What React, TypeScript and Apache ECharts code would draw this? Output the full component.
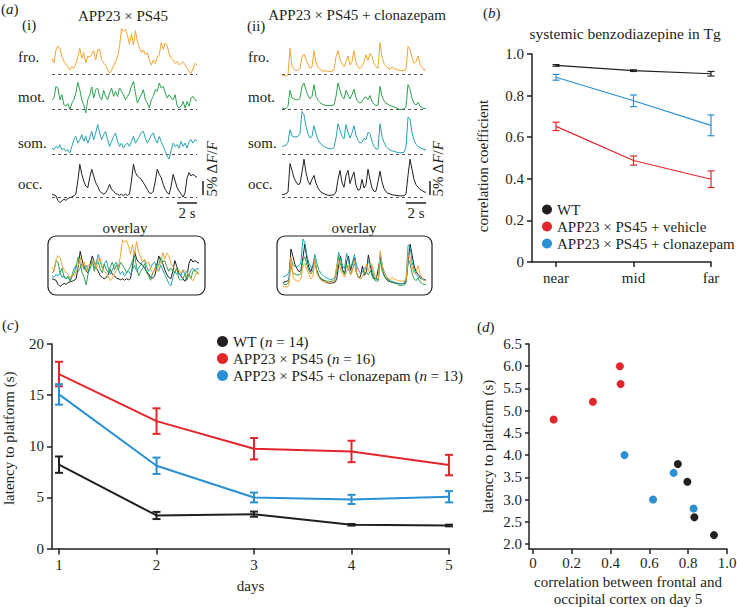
import React, { useEffect, useRef } from "react";
import * as echarts from "echarts";

const FONT = "Liberation Serif";
const INK = "#231f20";
const ORANGE = "#f4a432";
const GREEN = "#2ca24e";
const TEAL = "#25a3ae";
const RED = "#e3262c";
const BLUE = "#2a8fd3";

// ---------- (a) calcium traces, ΔF/F in % ----------
const traceLabels = ["fro.", "mot.", "som.", "occ."];
const froI = [5.6, 4.0, 8.6, 10.0, 9.2, 6.2, 4.6, 3.6, 2.6, 1.4, 2.6, 2.0, 3.6, 6.2, 9.2, 5.6, 7.6, 4.0, 6.4, 6.0, 7.1, 8.3, 5.0, 8.6, 8.8, 5.2, 3.8, 3.2, 1.7, 0.2, 1.4, 2.9, 4.3, 6.0, 9.8, 16.2, 15.2, 16.0, 13.8, 10.7, 14.3, 10.4, 15.5, 11.5, 9.5, 7.6, 8.6, 6.9, 7.6, 4.8, 3.2, 5.0, 3.8, 6.0, 6.8, 11.2, 8.8, 11.0, 10.0, 7.1, 5.7, 5.0, 3.8, 4.5, 3.3, 3.8, 4.3, 3.3, 2.1, 1.0, 0.2, 1.9, 3.8, 3.2];
const motI = [3.3, 3.9, 8.1, 7.5, 3.3, 5.1, 1.5, 1.0, 1.9, -0.2, 2.1, 3.3, 5.7, 9.5, 6.9, 3.3, 1.5, -1.4, 3.3, 5.1, 7.9, 3.9, 6.9, 7.5, 4.5, 3.3, 6.7, 4.5, 3.3, 5.7, 7.5, 4.5, 6.3, 4.5, 7.5, 6.3, 5.1, 3.3, 4.5, 5.7, 8.1, 9.9, 5.7, 2.1, 3.9, 5.1, 6.9, 3.3, 2.1, 0.4, 3.3, 4.5, 6.9, 6.3, 9.3, 7.5, 8.1, 5.7, 3.9, 5.1, 3.9, 3.3, 5.1, 1.0, 0.4, 1.0, 2.7, 0.4, 2.7, 1.0, 3.9, 4.5, 3.3, 2.8];
const somI = [2.1, 1.5, 2.7, 2.1, 3.3, 1.5, 2.1, 1.0, 1.5, 0.4, 2.7, 5.1, 6.3, 3.9, 5.1, 6.9, 4.5, 6.3, 3.9, 5.7, 8.1, 5.1, 7.5, 10.5, 7.5, 5.1, 6.9, 8.1, 5.1, 2.7, 4.5, 6.3, 7.5, 4.5, 2.7, 3.9, 2.1, 3.3, 3.9, 2.7, 4.5, 6.3, 3.9, 5.1, 6.3, 7.7, 8.1, 5.7, 3.9, 5.1, 6.9, 7.5, 5.1, 3.9, 6.3, 4.5, 2.7, 1.0, -0.8, -1.8, 1.5, 3.9, 2.7, 3.3, 2.1, 4.5, 2.7, 3.9, 2.1, 4.5, 5.1, 3.9, 5.1, 4.6];
const occI = [1.0, 0.7, 0.4, -1.2, -2.0, -1.4, -0.8, -1.2, -0.5, -0.2, 0, 0.4, 1.0, 5.7, 11.7, 8.1, 5.7, 3.9, 3.3, 6.9, 9.9, 7.5, 5.1, 3.9, 2.1, 1.5, 1.0, 1.5, 2.7, 4.5, 2.7, 2.1, 1.2, 1.0, 0.6, 1.0, 0.4, 1.0, 0.6, 1.0, 5.7, 11.7, 8.7, 7.5, 6.9, 6.3, 5.1, 3.9, 2.7, 1.5, 1.2, 2.1, 5.7, 9.9, 8.1, 6.9, 4.5, 2.7, 1.5, 1.0, 3.9, 8.1, 5.7, 3.3, 2.1, 1.0, 0, 1.5, 6.9, 8.7, 7.5, 8.1, 7.5, 7.0];
const froII = [-0.4, -0.6, -0.7, -0.2, 9.2, 2.9, 1.7, 1.2, 1.4, 2.0, 6.2, 7.1, 5.2, 3.6, 2.0, 2.6, 8.3, 4.0, 2.4, 1.7, 1.2, 1.0, 1.1, 1.0, 0.8, 1.1, 1.4, 6.2, 8.3, 5.0, 3.6, 2.6, 4.4, 6.4, 3.2, 4.4, 8.3, 4.0, 2.4, 2.0, 2.6, 4.4, 6.8, 4.8, 7.4, 6.4, 3.6, 2.6, 2.0, 11.2, 6.0, 3.8, 2.9, 2.1, 1.7, 2.6, 1.9, 1.7, 1.4, 1.3, 1.2, 1.3, 1.7, 9.8, 8.8, 6.0, 3.8, 4.4, 6.4, 3.6, 2.4, 1.4, 1.7];
const motII = [0.4, 0.1, 0.2, 1.0, 6.7, 3.9, 3.6, 3.3, 3.3, 3.8, 8.1, 9.3, 6.7, 4.8, 3.6, 4.5, 8.7, 4.5, 3.1, 2.3, 1.8, 1.5, 1.3, 1.2, 1.2, 1.3, 1.4, 4.5, 9.3, 6.7, 4.5, 3.6, 6.7, 5.1, 3.6, 5.1, 7.1, 3.9, 2.6, 2.1, 2.7, 3.9, 4.3, 3.3, 4.8, 2.7, 1.7, 1.2, 1.4, 8.1, 4.5, 2.9, 2.1, 1.7, 1.2, 1.0, 0.7, 0.5, 0.1, -0.2, -0.1, 0.0, 0.7, 8.7, 7.1, 3.8, 2.1, 1.4, 2.4, 1.0, 0.5, 0.2, 0.2];
const somII = [2.7, 2.9, 3.2, 4.2, 8.7, 6.5, 6.1, 6.1, 6.3, 7.3, 15.2, 14.0, 9.9, 7.3, 5.7, 6.3, 10.1, 7.3, 5.1, 3.9, 3.2, 2.7, 2.3, 2.0, 1.8, 1.9, 2.3, 5.7, 10.8, 8.5, 6.3, 5.4, 10.5, 7.7, 5.7, 7.5, 10.1, 6.5, 4.9, 3.9, 4.2, 5.6, 5.1, 7.7, 7.3, 4.5, 2.7, 1.7, 1.9, 10.8, 6.3, 4.2, 2.7, 1.9, 1.4, 1.1, 1.0, 0.7, 0.5, 0.4, 0.5, 0.6, 2.5, 13.2, 12.5, 7.5, 5.1, 3.5, 2.7, 2.3, 1.9, 1.7, 1.5];
const occII = [0.8, 1.0, 1.2, 1.8, 11.9, 9.5, 6.8, 5.4, 4.4, 4.8, 8.9, 13.5, 8.7, 5.8, 4.4, 6.3, 7.7, 4.9, 3.2, 2.1, 1.5, 1.2, 0.8, 0.6, 0.6, 0.7, 0.8, 1.8, 6.3, 9.5, 5.1, 3.5, 7.7, 9.5, 4.8, 7.1, 8.9, 4.2, 2.4, 2.7, 6.3, 3.2, 4.4, 9.9, 6.3, 3.2, 2.0, 2.1, 5.4, 9.2, 5.4, 3.0, 1.9, 1.3, 1.1, 0.8, 0.7, 0.6, 0.5, 0.4, 0.4, 0.5, 1.1, 7.7, 13.5, 9.9, 6.3, 4.4, 3.5, 2.7, 2.3, 1.8, 1.7];

// ---------- (b) correlation vs distance ----------
const distanceCats = ["near", "mid", "far"];
const bNames = ["WT", "APP23 × PS45 + vehicle", "APP23 × PS45 + clonazepam"];
const bWT = [0.945, 0.92, 0.905];
const bWTErr = [0.004, 0.004, 0.011];
const bVeh = [0.652, 0.488, 0.398];
const bVehErr = [0.02, 0.022, 0.04];
const bClz = [0.888, 0.775, 0.657];
const bClzErr = [0.014, 0.028, 0.05];

// ---------- (c) latency over days ----------
const days = [1, 2, 3, 4, 5];
const cNames = ["WT", "APP23 × PS45", "APP23 × PS45 + clonazepam"];
const cN = [14, 16, 13];
const cWT = [8.2, 3.23, 3.36, 2.32, 2.25];
const cWTErr = [0.8, 0.35, 0.25, 0.08, 0.08];
const cTg = [17.06, 12.46, 9.76, 9.49, 8.16];
const cTgErr = [1.2, 1.25, 1.05, 1.05, 1.0];
const cClz = [15.07, 8.09, 4.99, 4.8, 5.06];
const cClzErr = [1.0, 0.8, 0.48, 0.45, 0.55];

// ---------- (d) latency vs correlation ----------
const dWTx = [0.747, 0.796, 0.832, 0.933];
const dWTy = [3.8, 3.4, 2.6, 2.2];
const dTgx = [0.107, 0.309, 0.452, 0.448];
const dTgy = [4.8, 5.2, 5.6, 6.0];
const dClzx = [0.472, 0.725, 0.619, 0.828];
const dClzy = [4.0, 3.6, 3.0, 2.8];
const dXTicks = [0, 0.2, 0.4, 0.6, 0.8, 1.0];
const dYTicks = [2.0, 2.5, 3.0, 3.5, 4.0, 4.5, 5.0, 5.5, 6.0, 6.5];

const txt = { fontFamily: FONT, fontSize: 15, color: INK };

function errSeries(xs: number[], ys: number[], es: number[], color: string, gi: number, lw: number, cap: number) {
  return {
    type: "custom",
    xAxisIndex: gi,
    yAxisIndex: gi,
    encode: { x: 0, y: 1 },
    z: 4,
    data: ys.map((v, i) => [xs[i], v, es[i]]),
    renderItem: (_p: any, api: any) => {
      const x = api.value(0), y = api.value(1), e = api.value(2);
      const t = api.coord([x, y + e]);
      const b = api.coord([x, y - e]);
      const st = { stroke: color, lineWidth: lw };
      return {
        type: "group",
        children: [
          { type: "line", shape: { x1: t[0], y1: t[1], x2: b[0], y2: b[1] }, style: st },
          { type: "line", shape: { x1: t[0] - cap, y1: t[1], x2: t[0] + cap, y2: t[1] }, style: st },
          { type: "line", shape: { x1: b[0] - cap, y1: b[1], x2: b[0] + cap, y2: b[1] }, style: st },
        ],
      };
    },
  };
}

function buildOption() {
  const grids: any[] = [];
  const xAxes: any[] = [];
  const yAxes: any[] = [];
  const series: any[] = [];
  const addGrid = (g: any, x: any, y: any) => {
    grids.push({ ...g, containLabel: false, outerBoundsMode: "none" });
    const i = grids.length - 1;
    xAxes.push({ ...x, gridIndex: i });
    yAxes.push({ ...y, gridIndex: i });
    return i;
  };

  // ----- (a) traces -----
  const PX = 2.8; // px per 1 % dF/F
  const TMIN = -3, TMAX = 17;
  const baselines = [74, 109, 154, 197];
  const traceColors = [ORANGE, GREEN, TEAL, INK];
  const sets = [
    { left: 52, width: 145, data: [froI, motI, somI, occI] },
    { left: 282, width: 144, data: [froII, motII, somII, occII] },
  ];
  sets.forEach((set) =>
    set.data.forEach((arr, j) => {
      const gi = addGrid(
        { left: set.left, width: set.width, top: baselines[j] - TMAX * PX, height: (TMAX - TMIN) * PX },
        { type: "category", show: false, boundaryGap: false, data: arr.map((_, i) => i) },
        { type: "value", show: false, min: TMIN, max: TMAX }
      );
      series.push({
        type: "line",
        xAxisIndex: gi,
        yAxisIndex: gi,
        data: arr,
        symbol: "none",
        lineStyle: { color: traceColors[j], width: 1 },
        itemStyle: { color: traceColors[j] },
        markLine: {
          silent: true,
          symbol: ["none", "none"],
          label: { show: false },
          lineStyle: { type: [3, 3], color: "#555", width: 1 },
          data: [{ yAxis: 0 }],
        },
      });
    })
  );

  // overlays
  const ovColors = [INK, TEAL, GREEN, ORANGE];
  const ovSets = [
    { left: 52, width: 147, top: 239, height: 50, min: -3, max: 16.5, data: [occI, somI, motI, froI] },
    { left: 283, width: 143, top: 238, height: 50, min: -1, max: 15.5, data: [occII, somII, motII, froII] },
  ];
  ovSets.forEach((s) => {
    const gi = addGrid(
      { left: s.left, width: s.width, top: s.top, height: s.height },
      { type: "category", show: false, boundaryGap: false, data: s.data[0].map((_, i) => i) },
      { type: "value", show: false, min: s.min, max: s.max }
    );
    s.data.forEach((arr, j) =>
      series.push({
        type: "line",
        xAxisIndex: gi,
        yAxisIndex: gi,
        data: arr,
        symbol: "none",
        lineStyle: { color: ovColors[j], width: 1 },
      })
    );
  });

  const axLine = { show: true, onZero: false, lineStyle: { color: INK, width: 1.5 } };
  const axTick = { show: true, length: 5, lineStyle: { color: INK, width: 1.5 } };

  // ----- (b) -----
  const bx = [0, 1, 2];
  const gb = addGrid(
    { left: 532, top: 54, width: 179, height: 208 },
    {
      type: "value", min: -0.31, max: 2,
      axisLine: axLine,
      axisTick: { ...axTick, customValues: bx },
      axisLabel: { ...txt, customValues: bx, margin: 8, formatter: (v: number) => distanceCats[Math.round(v)] },
      splitLine: { show: false },
    },
    {
      type: "value", min: 0, max: 1, interval: 0.2,
      axisLine: axLine, axisTick: axTick,
      axisLabel: { ...txt, margin: 8, formatter: (v: number) => (v === 0 ? "0" : v.toFixed(1)) },
      splitLine: { show: false },
      name: "correlation coefficient", nameLocation: "middle", nameGap: 42,
      nameTextStyle: { ...txt, padding: [0, 16, 0, 0] },
    }
  );
  const bSets = [
    { name: bNames[0], v: bWT, e: bWTErr, c: INK },
    { name: bNames[1], v: bVeh, e: bVehErr, c: RED },
    { name: bNames[2], v: bClz, e: bClzErr, c: BLUE },
  ];
  bSets.forEach((s) => {
    series.push({
      type: "line", name: s.name, xAxisIndex: gb, yAxisIndex: gb,
      data: s.v.map((v, i) => [bx[i], v]), symbol: "none",
      lineStyle: { color: s.c, width: 1.2 }, itemStyle: { color: s.c },
    });
    series.push(errSeries(bx, s.v, s.e, s.c, gb, 1.2, 3.5));
  });

  // ----- (c) -----
  const gc = addGrid(
    { left: 52, top: 344, width: 397, height: 204.5 },
    {
      type: "value", min: 0.928, max: 5,
      axisLine: axLine,
      axisTick: { ...axTick, length: 6, customValues: days },
      axisLabel: { ...txt, customValues: days, margin: 9 },
      splitLine: { show: false },
      name: "days", nameLocation: "middle", nameGap: 30, nameTextStyle: txt,
    },
    {
      type: "value", min: 0, max: 20, interval: 5,
      axisLine: axLine, axisTick: axTick,
      axisLabel: { ...txt, margin: 8 },
      splitLine: { show: false },
      name: "latency to platform (s)", nameLocation: "middle", nameGap: 36,
      nameTextStyle: { ...txt, padding: [0, 0, 0, 16] },
    }
  );
  const cSets = [
    { name: cNames[0], v: cWT, e: cWTErr, c: INK },
    { name: cNames[1], v: cTg, e: cTgErr, c: RED },
    { name: cNames[2], v: cClz, e: cClzErr, c: BLUE },
  ];
  cSets.forEach((s) => {
    series.push({
      type: "line", name: s.name, xAxisIndex: gc, yAxisIndex: gc,
      data: s.v.map((v, i) => [days[i], v]), symbol: "none",
      lineStyle: { color: s.c, width: 2 }, itemStyle: { color: s.c },
    });
    series.push(errSeries(days, s.v, s.e, s.c, gc, 2, 4));
  });

  // ----- (d) -----
  const gd = addGrid(
    { left: 529, top: 344, width: 198, height: 205 },
    {
      type: "value", min: -0.02, max: 1.0,
      axisLine: axLine,
      axisTick: { ...axTick, customValues: dXTicks },
      axisLabel: { ...txt, customValues: dXTicks, margin: 6, formatter: (v: number) => (v === 0 ? "0" : v.toFixed(1)) },
      splitLine: { show: false },
      name: "correlation between frontal and\noccipital cortex on day 5",
      nameLocation: "middle", nameGap: 24, nameTextStyle: { ...txt, lineHeight: 17 },
    },
    {
      type: "value", min: 1.8875, max: 6.5,
      axisLine: axLine,
      axisTick: { ...axTick, length: 4, customValues: dYTicks },
      axisLabel: { ...txt, customValues: dYTicks, margin: 7, formatter: (v: number) => v.toFixed(1) },
      splitLine: { show: false },
      name: "latency to platform (s)", nameLocation: "middle", nameGap: 34, nameTextStyle: txt,
    }
  );
  const dSets = [
    { x: dTgx, y: dTgy, c: RED },
    { x: dClzx, y: dClzy, c: BLUE },
    { x: dWTx, y: dWTy, c: INK },
  ];
  dSets.forEach((s) =>
    series.push({
      type: "scatter", xAxisIndex: gd, yAxisIndex: gd,
      data: s.x.map((x, i) => [x, s.y[i]]),
      symbol: "circle", symbolSize: 8, itemStyle: { color: s.c, opacity: 1 },
    })
  );

  // ----- graphic annotations -----
  const it = { fontStyle: "italic", fontFamily: FONT, fontSize: 15, fill: INK };
  const T = (x: number, y: number, text: string, align = "left", extra: any = {}) => ({
    type: "text", x, y, silent: true,
    style: { text, fill: INK, fontFamily: FONT, fontSize: 15, align, verticalAlign: "middle", rich: { it }, ...extra },
  });
  const L = (x1: number, y1: number, x2: number, y2: number) => ({
    type: "line", silent: true, shape: { x1, y1, x2, y2 }, style: { stroke: INK, lineWidth: 1.5 },
  });
  const graphic: any[] = [
    T(1, 9, "({it|a})"),
    T(22, 25, "(i)"),
    T(123, 16, "APP23 × PS45", "center"),
    T(247, 26, "(ii)"),
    T(357, 15, "APP23 × PS45 + clonazepam", "center"),
    T(483, 13, "({it|b})"),
    T(625, 33, "systemic benzodiazepine in Tg", "center", { fontSize: 15.5 }),
    T(2, 325, "({it|c})"),
    T(477, 327, "({it|d})"),
    T(125, 228, "overlay", "center"),
    T(354, 228, "overlay", "center"),
    T(187, 213, "2 s", "center"),
    T(416, 213, "2 s", "center"),
    { ...T(212, 169, "5% Δ{it|F}/{it|F}", "center"), rotation: Math.PI / 2 },
    { ...T(438, 169, "5% Δ{it|F}/{it|F}", "center"), rotation: Math.PI / 2 },
    L(203, 181, 203, 195),
    L(177, 203, 197, 203),
    L(430, 181, 430, 195),
    L(406, 203, 426, 203),
    { type: "rect", silent: true, shape: { x: 48, y: 236, width: 157, height: 59, r: 8 }, style: { fill: "none", stroke: INK, lineWidth: 1.2 } },
    { type: "rect", silent: true, shape: { x: 277, y: 236, width: 155, height: 59, r: 8 }, style: { fill: "none", stroke: INK, lineWidth: 1.2 } },
  ];
  const labelY = [57, 97, 143, 184];
  traceLabels.forEach((lab, j) => {
    graphic.push(T(18, labelY[j], lab));
    graphic.push(T(248, labelY[j], lab));
  });

  return {
    animation: false,
    backgroundColor: "#ffffff",
    textStyle: { fontFamily: FONT },
    grid: grids,
    xAxis: xAxes,
    yAxis: yAxes,
    legend: [
      {
        orient: "vertical", left: 542, top: 202, padding: 0, itemWidth: 10, itemHeight: 10, itemGap: 2,
        icon: "circle", selectedMode: false, data: bNames, textStyle: { ...txt },
      },
      {
        orient: "vertical", left: 217, top: 334, padding: 0, itemWidth: 11, itemHeight: 11, itemGap: 2,
        icon: "circle", selectedMode: false, data: cNames,
        formatter: (name: string) => `${name} ({it|n} = ${cN[cNames.indexOf(name)]})`,
        textStyle: { ...txt, rich: { it: { fontStyle: "italic", fontFamily: FONT, fontSize: 15, color: INK } } },
      },
    ],
    graphic,
    series,
  };
}

export default function App() {
  const ref = useRef<HTMLDivElement>(null);
  useEffect(() => {
    const chart = echarts.init(ref.current!, null, { renderer: "svg" });
    chart.setOption(buildOption() as any);
    return () => chart.dispose();
  }, []);
  return (
    <div
      ref={ref}
      style={{ position: "absolute", left: 0, top: 0, width: 737, height: 607, background: "#fff" }}
    />
  );
}
